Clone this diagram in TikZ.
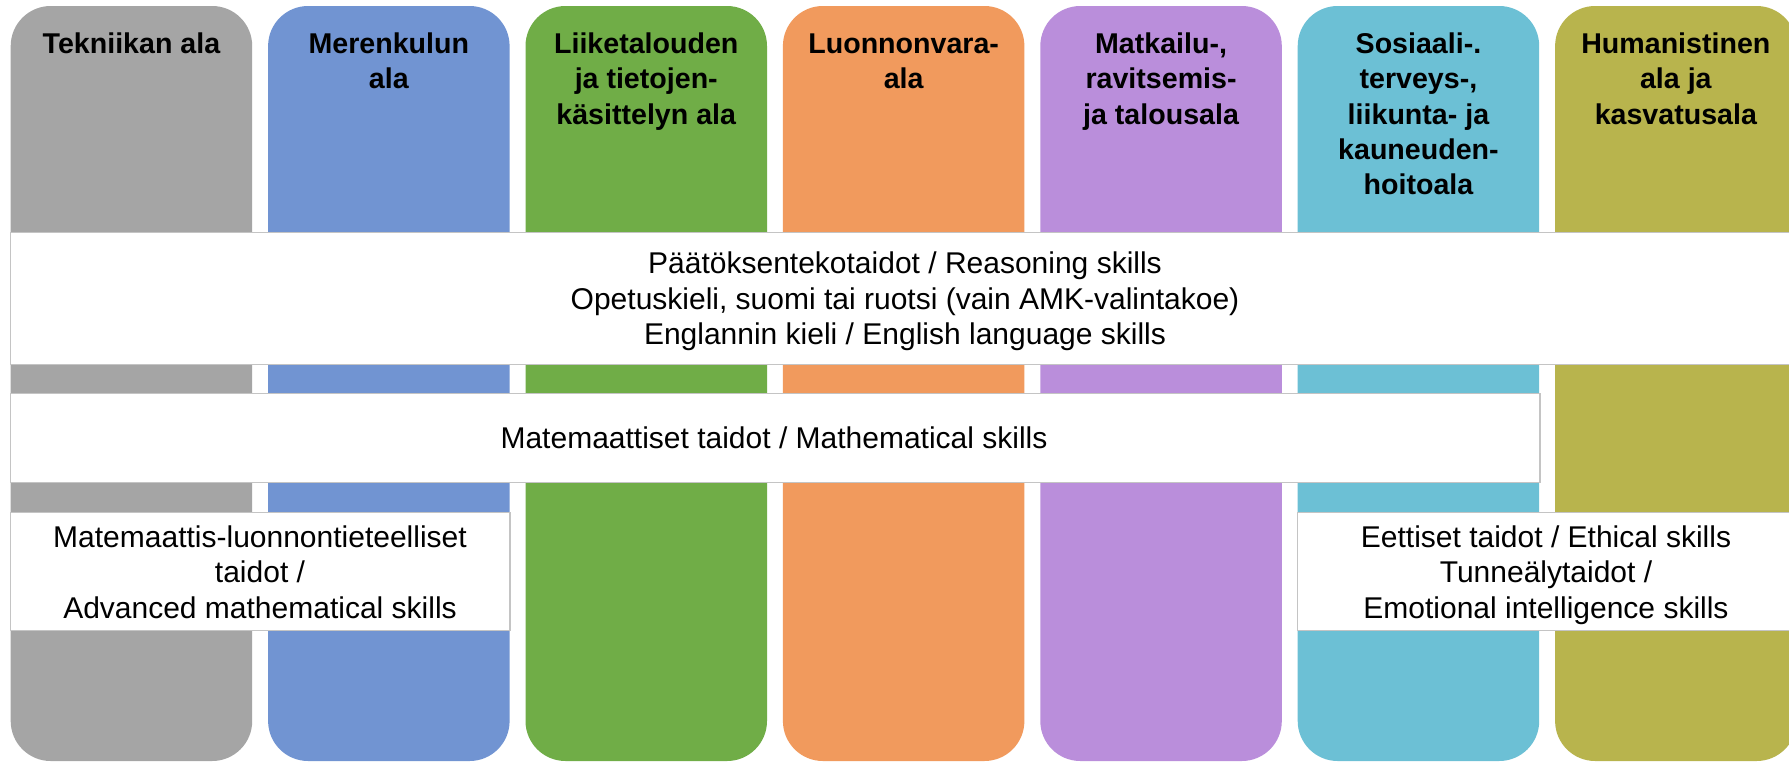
\documentclass[tikz,border=0pt]{standalone}
\usepackage{fontspec}
\setmainfont{Liberation Sans}
\definecolor{cgray}{HTML}{A5A5A5}
\definecolor{cblue}{HTML}{7194D2}
\definecolor{cgreen}{HTML}{70AD47}
\definecolor{corange}{HTML}{F19A5D}
\definecolor{cpurple}{HTML}{BA8EDB}
\definecolor{ccyan}{HTML}{6CC0D5}
\definecolor{colive}{HTML}{B8B44D}
\definecolor{bandline}{HTML}{C4C4C4}
\begin{document}
\begin{tikzpicture}[x=0.5pt,y=-0.5pt,
  colbox/.style={rectangle, rounded corners=20pt, minimum width=120.75pt, minimum height=377.5pt, inner sep=0pt, draw=none},
  band/.style={rectangle, draw=bandline, line width=0.6pt, fill=white, inner sep=0pt},
  hdr/.style={anchor=north, align=center, inner sep=0pt, font=\fontsize{14.3}{17.7}\selectfont\bfseries},
  btxt/.style={anchor=north, align=center, inner sep=0pt, font=\fontsize{15}{17.8}\selectfont},
]
\useasboundingbox (0,0) rectangle (1789,761);
\clip (0,0) rectangle (1789,761);
\fill[white] (0,0) rectangle (1789,761);
% columns
\node[colbox, fill=cgray]   (c1) at (131.45,383.5) {};
\node[colbox, fill=cblue]   (c2) at (388.85,383.5) {};
\node[colbox, fill=cgreen]  (c3) at (646.25,383.5) {};
\node[colbox, fill=corange] (c4) at (903.65,383.5) {};
\node[colbox, fill=cpurple] (c5) at (1161.05,383.5) {};
\node[colbox, fill=ccyan]   (c6) at (1418.45,383.5) {};
\node[colbox, fill=colive]  (c7) at (1675.85,383.5) {};
% headers
\node[hdr] (h1) at (131.45,28.2) {\strut Tekniikan ala};
\node[hdr] (h2) at (388.85,28.2) {\strut Merenkulun\\ala};
\node[hdr] (h3) at (646.25,28.2) {\strut Liiketalouden\\ja tietojen-\\käsittelyn ala};
\node[hdr] (h4) at (903.65,28.2) {\strut Luonnonvara-\\ala};
\node[hdr] (h5) at (1161.05,28.2) {\strut Matkailu-,\\ravitsemis-\\ja talousala};
\node[hdr] (h6) at (1418.45,28.2) {\strut Sosiaali-.\\terveys-,\\liikunta- ja\\kauneuden-\\hoitoala};
\node[hdr] (h7) at (1675.85,28.2) {\strut Humanistinen\\ala ja\\kasvatusala};
% bands
\node[band, minimum width=894.65pt, minimum height=66pt]   (b1)  at (905.35,298.3) {};
\node[band, minimum width=764.65pt, minimum height=44.5pt] (b2)  at (775.35,437.8) {};
\node[band, minimum width=249.65pt, minimum height=59.1pt] (b3l) at (260.35,571.4) {};
\node[band, minimum width=251.25pt, minimum height=59.1pt] (b3r) at (1548.75,571.4) {};
% band texts
\node[btxt] (t1) at (905,248.3) {\strut Päätöksentekotaidot / Reasoning skills\\Opetuskieli, suomi tai ruotsi (vain AMK-valintakoe)\\Englannin kieli / English language skills};
\node[btxt] (t2) at (774,423.0) {\strut Matemaattiset taidot / Mathematical skills};
\node[btxt] (t3l) at (260,521.8) {\strut Matemaattis-luonnontieteelliset\\taidot /\\Advanced mathematical skills};
\node[btxt] (t3r) at (1546,521.8) {\strut Eettiset taidot / Ethical skills\\Tunneälytaidot /\\Emotional intelligence skills};
\end{tikzpicture}
\end{document}
